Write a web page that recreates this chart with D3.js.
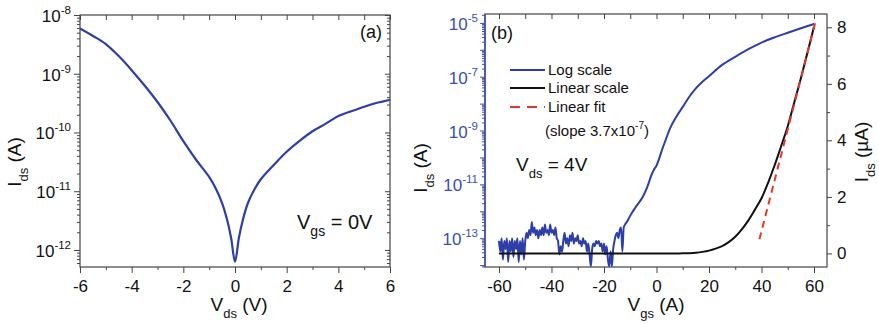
<!DOCTYPE html>
<html><head><meta charset="utf-8">
<script src="https://cdn.jsdelivr.net/npm/d3@7"></script>
<style>
body{margin:0;background:#fff}
svg{display:block;font-family:"Liberation Sans",Arial,Helvetica,sans-serif}
</style>
</head><body>
<svg id="chart" width="879" height="324"></svg>
<script>
// ---------- Panel (a): Ids vs Vds at Vgs = 0V (log scale) ----------
const aV = [-6,-5.5,-5,-4.5,-4,-3.5,-3,-2.5,-2,-1.5,-1,-0.75,-0.5,-0.3,-0.15,0,0.15,0.3,0.5,0.75,1,1.5,2,2.5,3,3.5,4,4.5,5,5.5,6];
const aI = [5.9e-9,4.4e-9,3.2e-9,2.0e-9,1.15e-9,6.3e-10,3.3e-10,1.6e-10,7.1e-11,3.4e-11,1.75e-11,1.12e-11,6.3e-12,3.2e-12,1.6e-12,6.3e-13,1.6e-12,3.2e-12,6.3e-12,1.07e-11,1.6e-11,2.8e-11,4.7e-11,7.2e-11,1.05e-10,1.4e-10,1.9e-10,2.3e-10,2.75e-10,3.2e-10,3.6e-10];
const aXTicks = [-6,-4,-2,0,2,4,6];
const aXMinor = [-5,-3,-1,1,3,5];
const aYExps = [-8,-9,-10,-11,-12];

// ---------- Panel (b): transfer curve, Vds = 4V ----------
const bVgs = [-60,-59.5,-59,-58.5,-58,-57.5,-57,-56.5,-56,-55.5,-55,-54.5,-54,-53.5,-53,-52.5,-52,-51.5,-51,-50.5,-50,
  -49.5,-49,-48.5,-48,-47.5,-47,-46.5,-46,-45.5,-45,-44.5,-44,-43.5,-43,-42.5,-42,-41.5,-41,-40.5,-40,-39.5,-39,-38.5,-38,
  -37.5,-37,-36.5,-36,-35.5,-35,-34.5,-34,-33.5,-33,-32.5,-32,-31.5,-31,-30.5,-30,-29.5,-29,-28.5,-28,-27.5,-27,-26.5,-26,
  -25.5,-25,-24.5,-24,-23.5,-23,-22.5,-22,-21.5,-21,-20.5,-20,-19.5,-19,-18.5,-18,-17.5,-17,-16.5,-16,-15.5,-15,-14.5,-14,
  -13.5,-13,-12.5,-12,-11,-10,-8,-6,-5,-3.5,-2,-1,0,1,2,3.5,5,7.5,10,12.5,15,17.5,20,25,30,35,40,45,50,55,60];
const bLogI = [7.9e-14,3.2e-14,1e-13,1.6e-14,7.9e-14,4e-14,1e-13,1.3e-14,7.9e-14,3.2e-14,1e-13,2e-14,7.9e-14,4e-14,1e-13,1.3e-14,7.9e-14,2.5e-14,1e-13,1.6e-14,7.9e-14,
  1.6e-13,1e-13,2e-13,1.3e-13,4e-13,1.6e-13,2.5e-13,1.3e-13,2e-13,1e-13,2e-13,1.3e-13,2.5e-13,1.3e-13,3.2e-13,1.6e-13,2e-13,1.3e-13,3.2e-13,1.6e-13,2e-13,1.3e-13,2.5e-13,1e-13,
  7.9e-14,2.5e-14,5e-14,3.2e-14,7.9e-14,1.6e-13,6.3e-14,1e-13,5e-14,1.3e-13,7.9e-14,1.6e-13,6.3e-14,1e-13,7.9e-14,1.3e-13,6.3e-14,7.9e-14,5e-14,1e-13,6.3e-14,7.9e-14,3.2e-14,6.3e-14,
  2.5e-14,9e-15,4e-14,6.3e-14,5e-14,7.9e-14,6.3e-14,7.9e-14,5e-14,6.3e-14,3.2e-14,6.3e-14,2.5e-14,5e-14,1.6e-14,9e-15,3.2e-14,9e-15,4e-14,7.9e-14,1.3e-13,1.6e-13,1e-13,2e-13,
  2.5e-13,3.2e-14,2.5e-13,3.2e-13,4.5e-13,6.9e-13,1.4e-12,2.6e-12,3.8e-12,8e-12,2.1e-11,3.5e-11,5e-11,9e-11,1.8e-10,4.5e-10,1.1e-9,3.2e-9,7.6e-9,1.8e-8,3.7e-8,6.5e-8,1.05e-7,2.75e-7,5.5e-7,1.05e-6,1.85e-6,2.9e-6,4.3e-6,6.3e-6,9.1e-6];
const bLinV = [-60,5,10,12.5,15,17.5,20,22.5,25,27.5,30,32.5,35,37.5,40,42.5,45,47.5,50,52.5,55,57.5,60];
const bLinI = [0,0,0.003,0.01,0.025,0.055,0.1,0.17,0.26,0.4,0.59,0.85,1.17,1.55,1.95,2.5,3.12,3.8,4.5,5.35,6.2,7.1,8.02]; // µA
const fitV = [39.2, 60.4];
const fitI = [0.5, 8.14]; // µA
const bXTicks = [-60,-40,-20,0,20,40,60];
const bXMinor = [-50,-30,-10,10,30,50];
const bYExpsAll = [-14,-13,-12,-11,-10,-9,-8,-7,-6,-5];
const bYExpLabels = [-5,-7,-9,-11,-13];
const bRTicks = [0,2,4,6,8];
const bRMinor = [1,3,5,7];
const legendLabels = ["Log scale","Linear scale","Linear fit"];

const BLUE = "#2d3ea8", AXBLUE = "#3b4db5", FRAME = "#444", RED = "#e8352c";
const TICKFONT = 17;
const svg = d3.select("#chart");

function minorLogTicks(lo, hi) {
  const out = [];
  for (let e = Math.floor(Math.log10(lo)); e <= Math.ceil(Math.log10(hi)); e++)
    for (let k = 2; k <= 9; k++) { const v = k * Math.pow(10, e); if (v >= lo && v <= hi) out.push(v); }
  return out;
}
function styleAxis(g, color) {
  g.select(".domain").remove();
  g.selectAll("line").attr("stroke", color).attr("stroke-width", 1);
  g.selectAll("text").attr("fill", color);
}
function powLabels(g, color) {
  g.selectAll(".tick text").each(function(d) {
    const t = d3.select(this); const e = Math.round(Math.log10(d));
    t.text(null).attr("font-size", TICKFONT).attr("dy", "0.38em").attr("fill", color);
    t.append("tspan").text("10");
    t.append("tspan").attr("dy", -8).attr("font-size", 11.5).text(String(e));
  });
}

// ================= Panel (a) =================
const xa = d3.scaleLinear().domain([-6, 6]).range([80, 390]);
const ya = d3.scaleLog().domain([Math.pow(10, -12.29), 1e-8]).range([267, 15]);
const ga = svg.append("g");
svg.append("clipPath").attr("id", "clipA").append("rect")
  .attr("x", 80).attr("y", 15).attr("width", 310).attr("height", 252);

ga.append("g").attr("transform", "translate(0,267)")
  .call(d3.axisBottom(xa).tickValues(aXTicks).tickSize(6).tickPadding(7).tickFormat(d => String(d)))
  .call(g => styleAxis(g, FRAME)).call(g => g.selectAll("text").attr("font-size", TICKFONT).attr("fill", "#111"));
ga.append("g").attr("transform", "translate(0,267)")
  .call(d3.axisBottom(xa).tickValues(aXMinor).tickSize(3).tickFormat(""))
  .call(g => styleAxis(g, FRAME));
ga.append("g").attr("transform", "translate(0,15)")
  .call(d3.axisTop(xa).tickValues(aXTicks.concat(aXMinor)).tickSize(-5).tickFormat(""))
  .call(g => styleAxis(g, FRAME));
const aMajor = aYExps.map(e => Math.pow(10, e));
ga.append("g").attr("transform", "translate(80,0)")
  .call(d3.axisLeft(ya).tickValues(aMajor).tickSize(6).tickPadding(3))
  .call(g => styleAxis(g, FRAME)).call(g => powLabels(g, "#111"));
ga.append("g").attr("transform", "translate(80,0)")
  .call(d3.axisLeft(ya).tickValues(minorLogTicks(ya.domain()[0], 1e-8)).tickSize(3).tickFormat(""))
  .call(g => styleAxis(g, FRAME));
ga.append("g").attr("transform", "translate(390,0)")
  .call(d3.axisRight(ya).tickValues(aMajor).tickSize(-5).tickFormat(""))
  .call(g => styleAxis(g, FRAME));
ga.append("g").attr("transform", "translate(390,0)")
  .call(d3.axisRight(ya).tickValues(minorLogTicks(ya.domain()[0], 1e-8)).tickSize(-3).tickFormat(""))
  .call(g => styleAxis(g, FRAME));
ga.append("rect").attr("x", 80).attr("y", 15).attr("width", 310).attr("height", 252)
  .attr("fill", "none").attr("stroke", FRAME).attr("stroke-width", 1.2);

ga.append("path").datum(aV.map((v, i) => [v, aI[i]]))
  .attr("clip-path", "url(#clipA)")
  .attr("fill", "none").attr("stroke", BLUE).attr("stroke-width", 2.2).attr("stroke-linejoin", "round")
  .attr("d", d3.line().curve(d3.curveCatmullRom.alpha(0.5)).x(d => xa(d[0])).y(d => ya(d[1])));

ga.append("text").attr("x", 360).attr("y", 38).attr("font-size", 18).attr("fill", "#111").text("(a)");
const vgs = ga.append("text").attr("x", 297).attr("y", 229).attr("font-size", 20).attr("fill", "#111");
vgs.append("tspan").text("V");
vgs.append("tspan").attr("dy", 7).attr("font-size", 14).text("gs");
vgs.append("tspan").attr("dy", -7).text(" = 0V");

const axa = ga.append("text").attr("x", 239).attr("y", 311).attr("text-anchor", "middle").attr("font-size", 19).attr("fill", "#111");
axa.append("tspan").text("V");
axa.append("tspan").attr("dy", 7).attr("font-size", 13).text("ds");
axa.append("tspan").attr("dy", -7).text(" (V)");
const aya = ga.append("text").attr("transform", "translate(21,162) rotate(-90)").attr("text-anchor", "middle").attr("font-size", 19).attr("fill", "#111");
aya.append("tspan").text("I");
aya.append("tspan").attr("dy", 7).attr("font-size", 13).text("ds");
aya.append("tspan").attr("dy", -7).text(" (A)");

// ================= Panel (b) =================
const xb = d3.scaleLinear().domain([-65.33, 64.95]).range([485, 827]);
const ybL = d3.scaleLog().domain([Math.pow(10, -14.07), Math.pow(10, -4.67)]).range([267, 14]);
const ybR = d3.scaleLinear().domain([-0.48, 8.47]).range([267, 14]);
const gb = svg.append("g");
svg.append("clipPath").attr("id", "clipB").append("rect")
  .attr("x", 485).attr("y", 14).attr("width", 342).attr("height", 253);

gb.append("g").attr("transform", "translate(0,267)")
  .call(d3.axisBottom(xb).tickValues(bXTicks).tickSize(6).tickPadding(7).tickFormat(d => String(d)))
  .call(g => styleAxis(g, FRAME)).call(g => g.selectAll("text").attr("font-size", TICKFONT).attr("fill", "#111"));
gb.append("g").attr("transform", "translate(0,267)")
  .call(d3.axisBottom(xb).tickValues(bXMinor).tickSize(3).tickFormat(""))
  .call(g => styleAxis(g, FRAME));
gb.append("g").attr("transform", "translate(0,14)")
  .call(d3.axisTop(xb).tickValues(bXTicks.concat(bXMinor)).tickSize(-5).tickFormat(""))
  .call(g => styleAxis(g, FRAME));
gb.append("g").attr("transform", "translate(827,0)")
  .call(d3.axisRight(ybR).tickValues(bRTicks).tickSize(5).tickPadding(5).tickFormat(d => String(d)))
  .call(g => styleAxis(g, FRAME)).call(g => g.selectAll("text").attr("font-size", TICKFONT).attr("fill", "#111"));
gb.append("g").attr("transform", "translate(827,0)")
  .call(d3.axisRight(ybR).tickValues(bRMinor).tickSize(3).tickFormat(""))
  .call(g => styleAxis(g, FRAME));
gb.append("rect").attr("x", 485).attr("y", 14).attr("width", 342).attr("height", 253)
  .attr("fill", "none").attr("stroke", FRAME).attr("stroke-width", 1.2);
gb.append("g").attr("transform", "translate(485,0)")
  .call(d3.axisLeft(ybL).tickValues(bYExpsAll.map(e => Math.pow(10, e))).tickSize(5).tickFormat(""))
  .call(g => styleAxis(g, AXBLUE));
gb.append("g").attr("transform", "translate(485,0)")
  .call(d3.axisLeft(ybL).tickValues(bYExpLabels.map(e => Math.pow(10, e))).tickSize(0).tickPadding(7))
  .call(g => styleAxis(g, AXBLUE)).call(g => powLabels(g, AXBLUE));
gb.append("g").attr("transform", "translate(485,0)")
  .call(d3.axisLeft(ybL).tickValues(minorLogTicks(ybL.domain()[0], ybL.domain()[1])).tickSize(3).tickFormat(""))
  .call(g => styleAxis(g, AXBLUE));
gb.append("line").attr("x1", 485).attr("x2", 485).attr("y1", 14).attr("y2", 267)
  .attr("stroke", AXBLUE).attr("stroke-width", 1.5);

const plotB = gb.append("g").attr("clip-path", "url(#clipB)");
plotB.append("path").datum(bVgs.map((v, i) => [v, bLogI[i]]))
  .attr("fill", "none").attr("stroke", BLUE).attr("stroke-width", 2).attr("stroke-linejoin", "round")
  .attr("d", d3.line().curve(d3.curveMonotoneX).x(d => xb(d[0])).y(d => ybL(d[1])));
plotB.append("path").datum(bLinV.map((v, i) => [v, bLinI[i]]))
  .attr("fill", "none").attr("stroke", "#111").attr("stroke-width", 2)
  .attr("d", d3.line().curve(d3.curveMonotoneX).x(d => xb(d[0])).y(d => ybR(d[1])));
plotB.append("path").datum(fitV.map((v, i) => [v, fitI[i]]))
  .attr("fill", "none").attr("stroke", RED).attr("stroke-width", 2).attr("stroke-dasharray", "7,5")
  .attr("d", d3.line().x(d => xb(d[0])).y(d => ybR(d[1])));

const legStyles = [{c: BLUE, dash: null}, {c: "#111", dash: null}, {c: RED, dash: "10,7"}];
const legY = [70, 88, 107];
legendLabels.forEach((lab, i) => {
  gb.append("line").attr("x1", 510).attr("x2", 545).attr("y1", legY[i]).attr("y2", legY[i])
    .attr("stroke", legStyles[i].c).attr("stroke-width", 2).attr("stroke-dasharray", legStyles[i].dash);
  gb.append("text").attr("x", 548).attr("y", legY[i] + 5).attr("font-size", 15).attr("fill", "#111").text(lab);
});
const slope = gb.append("text").attr("x", 545).attr("y", 136).attr("font-size", 15).attr("fill", "#111");
slope.append("tspan").text("(slope 3.7x10");
slope.append("tspan").attr("dy", -7).attr("font-size", 10).text("-7");
slope.append("tspan").attr("dy", 7).text(")");

gb.append("text").attr("x", 491).attr("y", 39).attr("font-size", 18).attr("fill", "#111").text("(b)");
const vds = gb.append("text").attr("x", 516).attr("y", 171).attr("font-size", 19).attr("fill", "#111");
vds.append("tspan").text("V");
vds.append("tspan").attr("dy", 7).attr("font-size", 13).text("ds");
vds.append("tspan").attr("dy", -7).text(" = 4V");

const axb = gb.append("text").attr("x", 656).attr("y", 311).attr("text-anchor", "middle").attr("font-size", 19).attr("fill", "#111");
axb.append("tspan").text("V");
axb.append("tspan").attr("dy", 7).attr("font-size", 13).text("gs");
axb.append("tspan").attr("dy", -7).text(" (A)");
const ayb = gb.append("text").attr("transform", "translate(427,168) rotate(-90)").attr("text-anchor", "middle").attr("font-size", 19).attr("fill", "#111");
ayb.append("tspan").text("I");
ayb.append("tspan").attr("dy", 7).attr("font-size", 13).text("ds");
ayb.append("tspan").attr("dy", -7).text(" (A)");
const ayr = gb.append("text").attr("transform", "translate(868,152) rotate(-90)").attr("text-anchor", "middle").attr("font-size", 19).attr("fill", "#111");
ayr.append("tspan").text("I");
ayr.append("tspan").attr("dy", 7).attr("font-size", 13).text("ds");
ayr.append("tspan").attr("dy", -7).text(" (µA)");
</script>
</body></html>
